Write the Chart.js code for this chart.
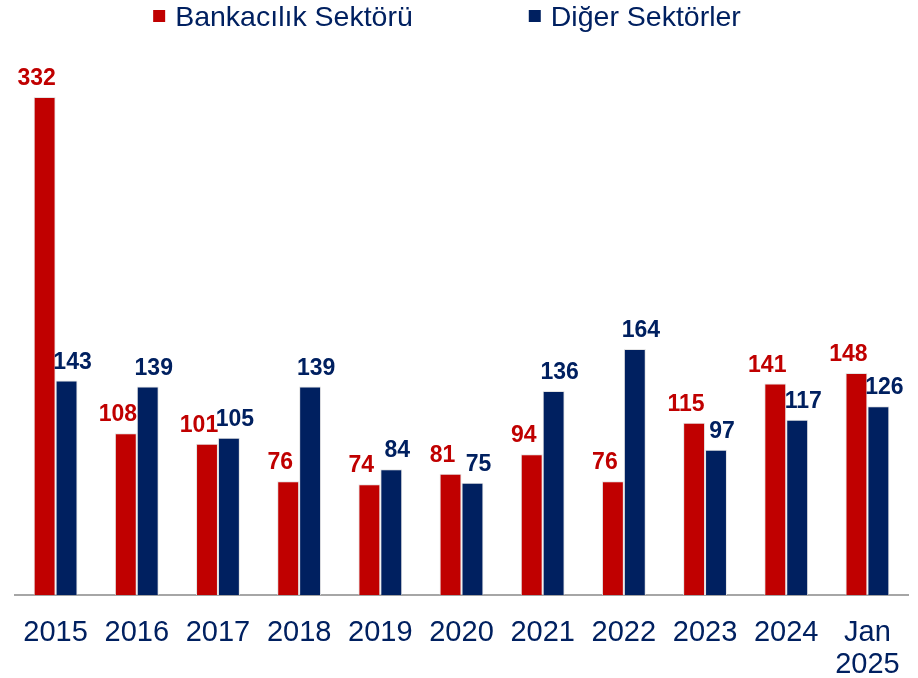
<!DOCTYPE html>
<html>
<head>
<meta charset="utf-8">
<script src="https://cdn.jsdelivr.net/npm/chart.js@4"></script>
<style>
  html, body { margin: 0; padding: 0; background: #fff; }
  #wrap { width: 918px; height: 678px; }
</style>
</head>
<body>
<div id="wrap"><canvas id="chart" width="918" height="678"></canvas></div>
<script>
const categories = ['2015', '2016', '2017', '2018', '2019', '2020', '2021', '2022', '2023', '2024', ['Jan', '2025']];
const bankValues = [332, 108, 101, 76, 74, 81, 94, 76, 115, 141, 148];
const otherValues = [143, 139, 105, 139, 84, 75, 136, 164, 97, 117, 126];

const RED = '#C00000';
const NAVY = '#002060';
const FONT = '"Liberation Sans", Arial, sans-serif';

// value above each bar, red ones nudged left and navy ones right so they don't collide
const valueLabels = {
    id: 'valueLabels',
    afterDatasetsDraw(chart) {
        const ctx = chart.ctx;
        ctx.save();
        ctx.font = 'bold 23px ' + FONT;
        ctx.textAlign = 'center';
        ctx.textBaseline = 'alphabetic';
        chart.data.datasets.forEach((ds, i) => {
            const meta = chart.getDatasetMeta(i);
            const shift = i === 0 ? -8 : 6;
            ctx.fillStyle = ds.backgroundColor;
            meta.data.forEach((bar, j) => {
                ctx.fillText(ds.data[j], bar.x + shift, bar.y - 12);
            });
        });
        ctx.restore();
    }
};

// legend drawn by hand: wide gap between the two entries
const topLegend = {
    id: 'topLegend',
    afterDraw(chart) {
        const ctx = chart.ctx;
        const box = 12, gapText = 10, gapItem = 116;
        ctx.save();
        ctx.font = '28.5px ' + FONT;
        ctx.textBaseline = 'alphabetic';
        const items = chart.data.datasets.map(ds => ({
            text: ds.label, color: ds.backgroundColor, w: ctx.measureText(ds.label).width
        }));
        let total = 0;
        items.forEach((it, k) => { total += box + gapText + it.w + (k ? gapItem : 0); });
        let x = 447 - total / 2;
        items.forEach(it => {
            ctx.fillStyle = it.color;
            ctx.fillRect(x, 10, box, box);
            ctx.fillStyle = NAVY;
            ctx.fillText(it.text, x + box + gapText, 26);
            x += box + gapText + it.w + gapItem;
        });
        ctx.restore();
    }
};

new Chart(document.getElementById('chart').getContext('2d'), {
    type: 'bar',
    data: {
        labels: categories,
        datasets: [{
            label: 'Bankacılık Sektörü',
            data: bankValues,
            backgroundColor: RED,
            borderColor: '#e4e4e4',
            borderWidth: 1
        }, {
            label: 'Diğer Sektörler',
            data: otherValues,
            backgroundColor: NAVY,
            borderColor: '#e4e4e4',
            borderWidth: 1
        }]
    },
    options: {
        responsive: false,
        animation: false,
        layout: { padding: { left: 15, right: 10, top: 55, bottom: -17 } },
        datasets: {
            bar: { categoryPercentage: 0.54, barPercentage: 1 }
        },
        scales: {
            y: {
                display: false,
                min: 0,
                max: 360
            },
            x: {
                grid: { display: false },
                border: { display: true, color: '#a6a6a6', width: 2 },
                ticks: {
                    color: NAVY,
                    font: { family: FONT, size: 29, lineHeight: 1.1 },
                    padding: 14,
                    maxRotation: 0,
                    autoSkip: false
                }
            }
        },
        plugins: {
            legend: { display: false },
            tooltip: { enabled: false }
        }
    },
    plugins: [valueLabels, topLegend]
});
</script>
</body>
</html>
